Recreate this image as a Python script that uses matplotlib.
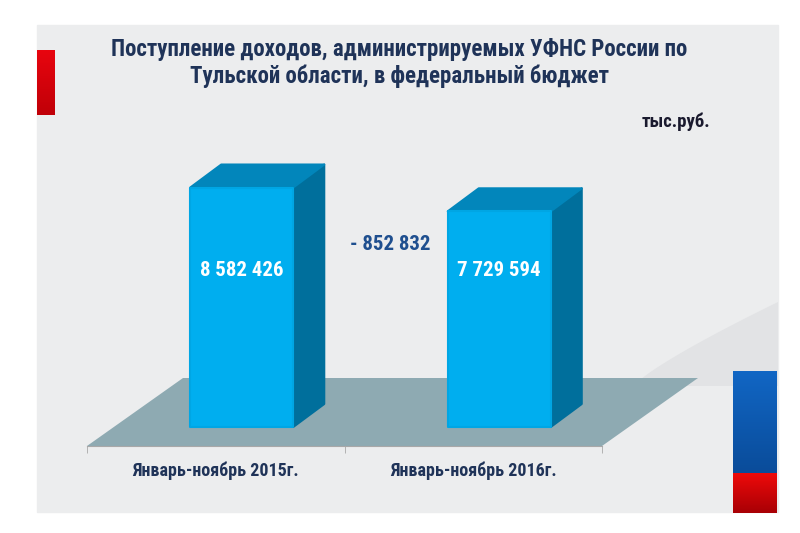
import matplotlib.pyplot as plt
from matplotlib.patches import Polygon, Rectangle
import numpy as np

periods = ["Январь-ноябрь 2015г.", "Январь-ноябрь 2016г."]
revenue = [8582426, 7729594]

title = "Поступление доходов, администрируемых УФНС России по\nТульской области, в федеральный бюджет"
units = "тыс.руб."

FONT = ['Roboto Condensed', 'DejaVu Sans']
NAVY = '#1f3358'

fig = plt.figure(figsize=(8, 5.33), dpi=100)

# background decoration in pixel coordinates
bg = fig.add_axes([0, 0, 1, 1])
bg.set_xlim(0, 800)
bg.set_ylim(533, 0)
bg.axis('off')
bg.add_patch(Rectangle((37, 25), 741, 487, color='#ecedee', zorder=0))

# swoosh
t = np.linspace(0, 1, 40)
cx = 637 + 141 * t
cy = 383 - 81 * t ** 0.85
sw = list(zip(cx, cy)) + [(778, 386), (637, 386)]
bg.add_patch(Polygon(sw, closed=True, color='#e2e3e5', lw=0, zorder=0.5))

def grad_strip(x0, x1, y0, y1, c_top, c_bot):
    g = np.linspace(0, 1, 64)[:, None, None]
    a = np.array(plt.matplotlib.colors.to_rgb(c_top))
    b = np.array(plt.matplotlib.colors.to_rgb(c_bot))
    img = a * (1 - g) + b * g
    bg.imshow(img, extent=(x0, x1, y1, y0), aspect='auto', zorder=1)

grad_strip(37, 55, 50, 115, '#e8050f', '#c00008')
grad_strip(733, 777, 371, 473, '#1166c4', '#0a4c9a')
grad_strip(733, 777, 473, 513, '#ee0a0a', '#a80005')
bg.set_xlim(0, 800)
bg.set_ylim(533, 0)

fig.text(399 / 800, 1 - 63 / 533, title, ha='center', va='center',
         fontsize=16.5, fontweight='bold', color=NAVY, family=FONT, linespacing=1.2)
fig.text(676 / 800, 1 - 122 / 533, units, ha='center', va='center',
         fontsize=13.5, fontweight='bold', color='#1a1a2e', family=FONT)

# chart axes
ax = fig.add_axes([87 / 800, (533 - 446) / 533, 515 / 800, 346 / 533])
ax.set_xlim(-0.5, 1.5)
ymax = 12.4e6
ax.set_ylim(0, ymax)
ax.patch.set_alpha(0)

xu = 2.0 / 515          # category units per pixel
yu = ymax / 346         # value units per pixel

# floor
fdx, fdy = 96 * xu, 68 * yu
floor = [(-0.5, 0), (1.5, 0), (1.5 + fdx, fdy), (-0.5 + fdx, fdy)]
ax.add_patch(Polygon(floor, closed=True, color='#8eaab2', lw=0, zorder=1, clip_on=False))

w = 0.4
ox, oy = 26 * xu, 19 * yu      # front face offset into depth
dx, dy = 31 * xu, 23 * yu      # bar depth
for i, v in enumerate(revenue):
    x0 = i - w / 2 + ox
    y0 = oy
    side = [(x0 + w, y0), (x0 + w + dx, y0 + dy), (x0 + w + dx, y0 + v + dy), (x0 + w, y0 + v)]
    top = [(x0, y0 + v), (x0 + w, y0 + v), (x0 + w + dx, y0 + v + dy), (x0 + dx, y0 + v + dy)]
    ax.add_patch(Polygon(side, closed=True, fc='#006f9c', ec='#006f9c', lw=1.5,
                         joinstyle='round', zorder=2, clip_on=False))
    ax.add_patch(Polygon(top, closed=True, fc='#0286bb', ec='#0286bb', lw=1.5,
                         joinstyle='round', zorder=2, clip_on=False))
    ax.add_patch(Rectangle((x0, y0), w, v, fc='#00aeef', ec='#00a6e4', lw=1.5,
                           joinstyle='round', zorder=3, clip_on=False))
    label = f"{v:,}".replace(",", " ")
    ax.text(i + ox, y0 + 156 * yu, label, ha='center', va='center', color='white',
            fontsize=15, fontweight='bold', family=FONT, zorder=4)

diff = revenue[0] - revenue[1]
ax.text(0.588, 0.581, "- " + f"{diff:,}".replace(",", " "), transform=ax.transAxes,
        ha='center', va='center', color='#1f4f8f', fontsize=15, fontweight='bold', family=FONT)

for s in ['top', 'right', 'left']:
    ax.spines[s].set_visible(False)
ax.spines['bottom'].set_color('#a8a8a8')
ax.spines['bottom'].set_zorder(5)
ax.set_yticks([])
ax.set_xticks([0, 1])
ax.set_xticklabels(periods, fontsize=13, fontweight='bold', color=NAVY, family=FONT)
ax.tick_params(axis='x', which='major', length=0, pad=11)
ax.set_xticks([-0.5, 0.5, 1.5], minor=True)
ax.tick_params(axis='x', which='minor', length=5, color='#a8a8a8', direction='out')

fig.savefig('out.png', dpi=100, facecolor='white')
